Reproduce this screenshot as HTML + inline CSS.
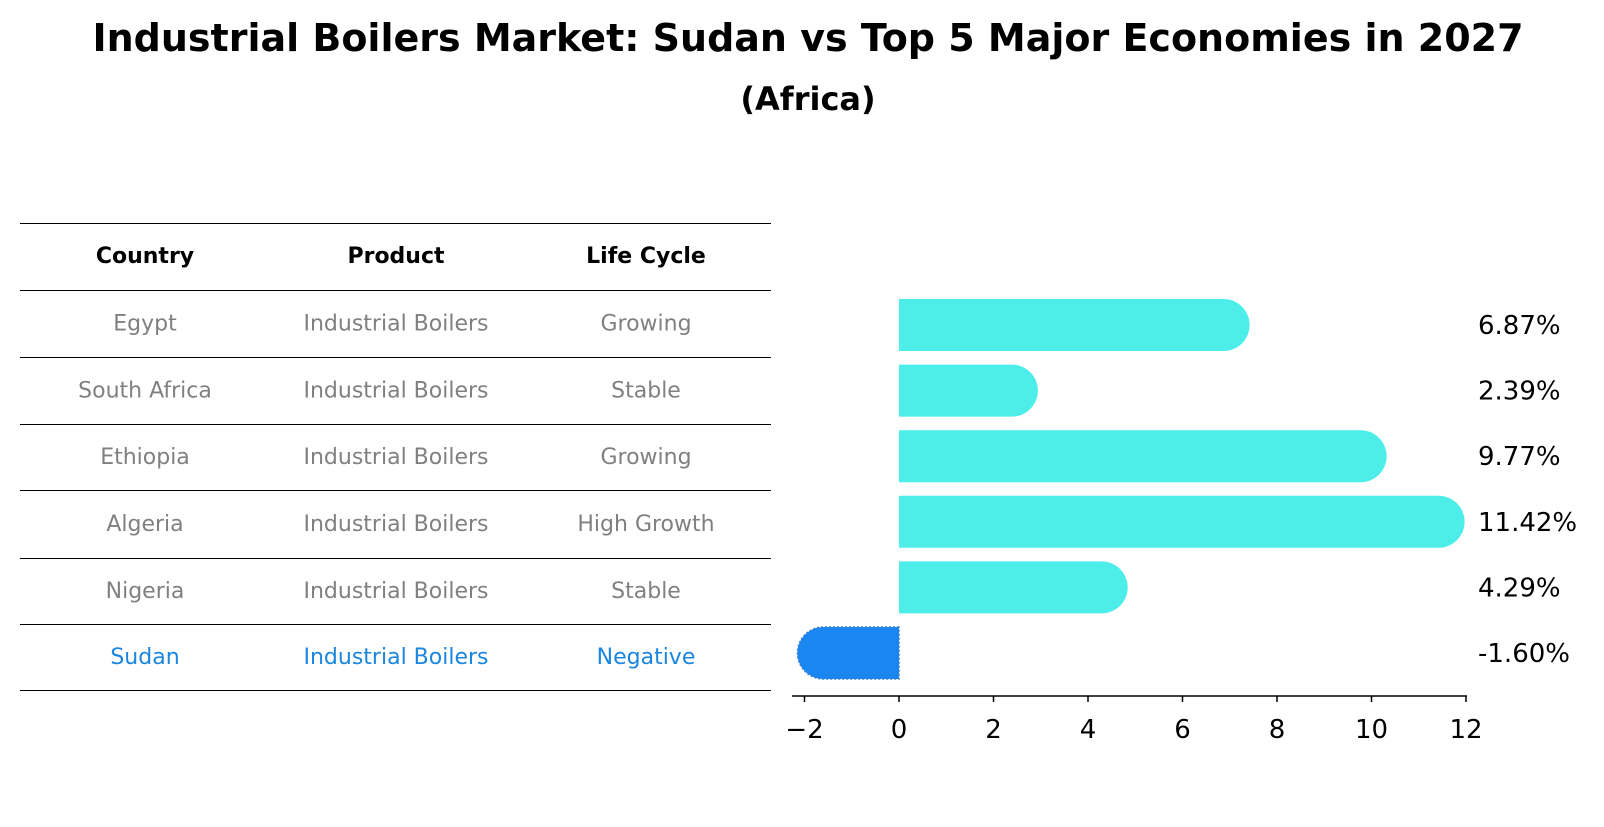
<!DOCTYPE html>
<html><head><meta charset="utf-8"><style>
body{margin:0;background:#fff;width:1604px;height:823px;overflow:hidden;font-family:"DejaVu Sans","Liberation Sans",sans-serif}
</style></head><body>
<svg width="1604" height="823" xmlns="http://www.w3.org/2000/svg" font-family="DejaVu Sans, Liberation Sans, sans-serif">
<text x="808" y="51" text-anchor="middle" font-size="38" font-weight="bold">Industrial Boilers Market: Sudan vs Top 5 Major Economies in 2027</text>
<text x="808" y="110" text-anchor="middle" font-size="32" font-weight="bold">(Africa)</text>
<g id="table"></g>
<g id="bars"></g>
</svg>
<script>
const countries=["Egypt","South Africa","Ethiopia","Algeria","Nigeria","Sudan"];
const products=["Industrial Boilers","Industrial Boilers","Industrial Boilers","Industrial Boilers","Industrial Boilers","Industrial Boilers"];
const lifeCycles=["Growing","Stable","Growing","High Growth","Stable","Negative"];
const growthValues=[6.87,2.39,9.77,11.42,4.29,-1.60];
const xTicks=[-2,0,2,4,6,8,10,12];
const NS="http://www.w3.org/2000/svg";
function mk(tag,attrs,parent){const e=document.createElementNS(NS,tag);for(const k in attrs)e.setAttribute(k,attrs[k]);parent.appendChild(e);return e;}
const table=document.getElementById('table'), bars=document.getElementById('bars');
const lineYs=[223,290,357,424,490,558,624,690];
const colX=[145,396,646];
lineYs.forEach((y,i)=>{const l=mk('line',{x1:20,x2:771,y1:y+0.5,y2:y+0.5,stroke:'#000','stroke-width':1,'shape-rendering':'crispEdges'},table);

});
["Country","Product","Life Cycle"].forEach((h,i)=>{const t=mk('text',{x:colX[i],y:263,'text-anchor':'middle','font-size':22,'font-weight':'bold'},table);t.textContent=h;

});
countries.forEach((c,r)=>{const y=(lineYs[r+1]+lineYs[r+2])/2+7;const col=r===5?'#1a86e0':'#808080';
[c,products[r],lifeCycles[r]].forEach((v,i)=>{const t=mk('text',{x:colX[i],y:y,'text-anchor':'middle','font-size':22,fill:col},table);t.textContent=v;

});});
const x0=899, ppu=47.25; const X=v=>x0+v*ppu;
const rowY=i=>325+i*65.6; const h=52, rad=26;
growthValues.forEach((v,i)=>{const cy=rowY(i);const xs=X(0),xe=X(v);let d;
const col=v<0?'#1a86f0':'#4deeea';
if(v>=0){d=`M${xs},${cy-h/2} L${xe},${cy-h/2} A${rad},${rad} 0 0 1 ${xe},${cy+h/2} L${xs},${cy+h/2} Z`;}
else{d=`M${xs},${cy-h/2} L${xe},${cy-h/2} A${rad},${rad} 0 0 0 ${xe},${cy+h/2} L${xs},${cy+h/2} Z`;}
const p=mk('path',{d:d,fill:col},bars);


if(v<0){const b=mk('path',{d:d,fill:'none',stroke:'#3a7fd8','stroke-width':1.5,'stroke-dasharray':'2,2'},bars);

}
const t=mk('text',{x:1478,y:cy+9,'font-size':26},bars);t.textContent=v.toFixed(2)+'%';

});
const ax=mk('line',{x1:792,x2:1467,y1:696,y2:696,stroke:'#000','stroke-width':1.5},bars);


xTicks.forEach(v=>{const tk=mk('line',{x1:X(v),x2:X(v),y1:696,y2:702,stroke:'#000','stroke-width':1.5},bars);


const t=mk('text',{x:X(v),y:738,'text-anchor':'middle','font-size':26},bars);t.textContent=v<0?'\u2212'+Math.abs(v):String(v);

});
</script>
</body></html>
